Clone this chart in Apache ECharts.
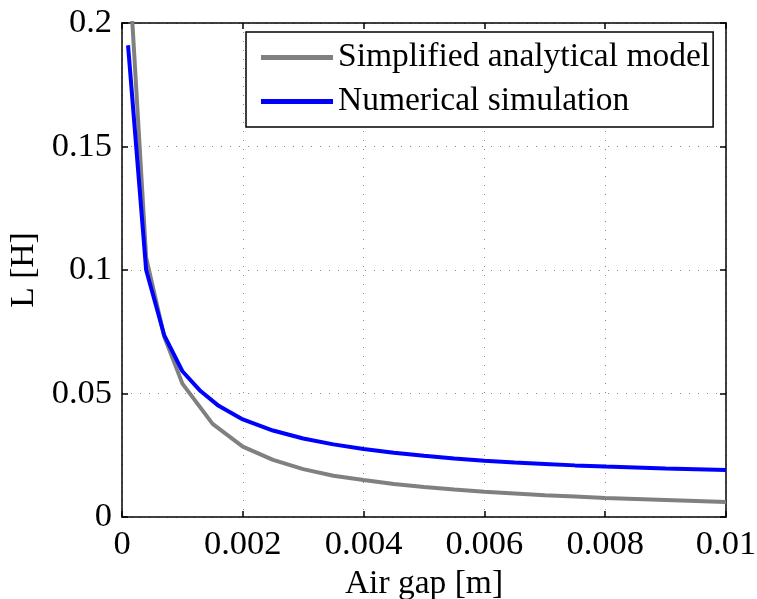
<!DOCTYPE html>
<html>
<head>
<meta charset="utf-8">
<script src="https://cdn.jsdelivr.net/npm/echarts@6/dist/echarts.min.js"></script>
<style>
  html, body { margin: 0; padding: 0; background: #fff; }
  #chart { width: 757px; height: 599px; }
</style>
</head>
<body>
<div id="chart"></div>
<script>
// air gap [m] and inductance [H]
const gapAnalytical = [0.0001, 0.0004, 0.0007, 0.001, 0.0015, 0.002, 0.0025, 0.003, 0.0035, 0.004,
  0.0045, 0.005, 0.0055, 0.006, 0.0065, 0.007, 0.0075, 0.008, 0.0085, 0.009, 0.0095, 0.01];
const lAnalytical = [0.23, 0.105, 0.073, 0.054, 0.0377, 0.0285, 0.0231, 0.0194, 0.0167, 0.0150,
  0.0134, 0.0121, 0.0111, 0.0102, 0.0095, 0.0088, 0.0083, 0.0077, 0.0073, 0.0069, 0.0065, 0.0061];

const gapNumerical = [0.0001, 0.0004, 0.0007, 0.001, 0.0013, 0.0016, 0.002, 0.0025, 0.003, 0.0035,
  0.004, 0.0045, 0.005, 0.0055, 0.006, 0.0065, 0.007, 0.0075, 0.008, 0.0085, 0.009, 0.0095, 0.01];
const lNumerical = [0.191, 0.100, 0.0735, 0.059, 0.051, 0.045, 0.0395, 0.0350, 0.0318, 0.0294,
  0.0275, 0.0260, 0.0248, 0.0237, 0.0228, 0.0221, 0.0215, 0.0209, 0.0204, 0.0200, 0.0196, 0.0193, 0.019];

const xTickLabels = ['0', '0.002', '0.004', '0.006', '0.008', '0.01'];
const yTickLabels = ['0', '0.05', '0.1', '0.15', '0.2'];

const seriesNames = ['Simplified analytical model', 'Numerical simulation'];

const serif = "'Liberation Serif', 'Times New Roman', serif";

const myChart = echarts.init(document.getElementById('chart'));

const pairs = (xs, ys) => xs.map((x, i) => [x, ys[i]]);

const gridLine = {
  show: true,
  lineStyle: { color: '#888', width: 1, type: [1, 8] }
};

const option = {
  animation: false,
  grid: { left: 122, right: 31, top: 23, bottom: 82, containLabel: false, outerBoundsMode: 'none' },
  legend: {
    orient: 'vertical',
    left: 246,
    top: 32,
    padding: [8, 3, 8, 15],
    itemGap: 9,
    itemWidth: 72,
    itemHeight: 5,
    itemTextGap: 9,
    icon: 'rect',
    borderColor: '#000',
    borderWidth: 1.5,
    borderRadius: 0,
    backgroundColor: '#fff',
    textStyle: { fontFamily: serif, fontSize: 33.5, color: '#000', lineHeight: 35 },
    data: seriesNames
  },
  xAxis: [{
    type: 'value',
    min: 0, max: 0.01, interval: 0.002,
    name: 'Air gap [m]',
    nameLocation: 'middle',
    nameGap: 41,
    nameTextStyle: { fontFamily: serif, fontSize: 33.5, color: '#000' },
    axisLine: { show: true, onZero: false, lineStyle: { color: '#000', width: 1.5 } },
    axisTick: { show: true, inside: true, length: 6, lineStyle: { color: '#000', width: 1.5 } },
    axisLabel: {
      fontFamily: serif, fontSize: 34.5, color: '#000', margin: 10,
      formatter: (v) => xTickLabels[Math.round(v / 0.002)]
    },
    splitLine: gridLine
  }, {
    type: 'value',
    position: 'top',
    min: 0, max: 0.01, interval: 0.002,
    axisLine: { show: true, onZero: false, lineStyle: { color: '#000', width: 1.5 } },
    axisTick: { show: true, inside: true, length: 6, lineStyle: { color: '#000', width: 1.5 } },
    axisLabel: { show: false },
    splitLine: { show: false }
  }],
  yAxis: [{
    type: 'value',
    min: 0, max: 0.2, interval: 0.05,
    name: 'L [H]',
    nameLocation: 'middle',
    nameGap: 77,
    nameRotate: 90,
    nameTextStyle: { fontFamily: serif, fontSize: 33.5, color: '#000' },
    axisLine: { show: true, onZero: false, lineStyle: { color: '#000', width: 1.5 } },
    axisTick: { show: true, inside: true, length: 6, lineStyle: { color: '#000', width: 1.5 } },
    axisLabel: {
      fontFamily: serif, fontSize: 34.5, color: '#000', margin: 10,
      formatter: (v) => yTickLabels[Math.round(v / 0.05)]
    },
    splitLine: gridLine
  }, {
    type: 'value',
    position: 'right',
    min: 0, max: 0.2, interval: 0.05,
    axisLine: { show: true, onZero: false, lineStyle: { color: '#000', width: 1.5 } },
    axisTick: { show: true, inside: true, length: 6, lineStyle: { color: '#000', width: 1.5 } },
    axisLabel: { show: false },
    splitLine: { show: false }
  }],
  series: [
    {
      name: seriesNames[0],
      type: 'line',
      xAxisIndex: 0, yAxisIndex: 0,
      showSymbol: false,
      symbol: 'none',
      clip: true,
      itemStyle: { color: '#808080' },
      lineStyle: { color: '#808080', width: 4 },
      data: pairs(gapAnalytical, lAnalytical)
    },
    {
      name: seriesNames[1],
      type: 'line',
      xAxisIndex: 0, yAxisIndex: 0,
      showSymbol: false,
      symbol: 'none',
      clip: true,
      itemStyle: { color: '#0000ff' },
      lineStyle: { color: '#0000ff', width: 4 },
      data: pairs(gapNumerical, lNumerical)
    }
  ]
};

myChart.setOption(option);
</script>
</body>
</html>
